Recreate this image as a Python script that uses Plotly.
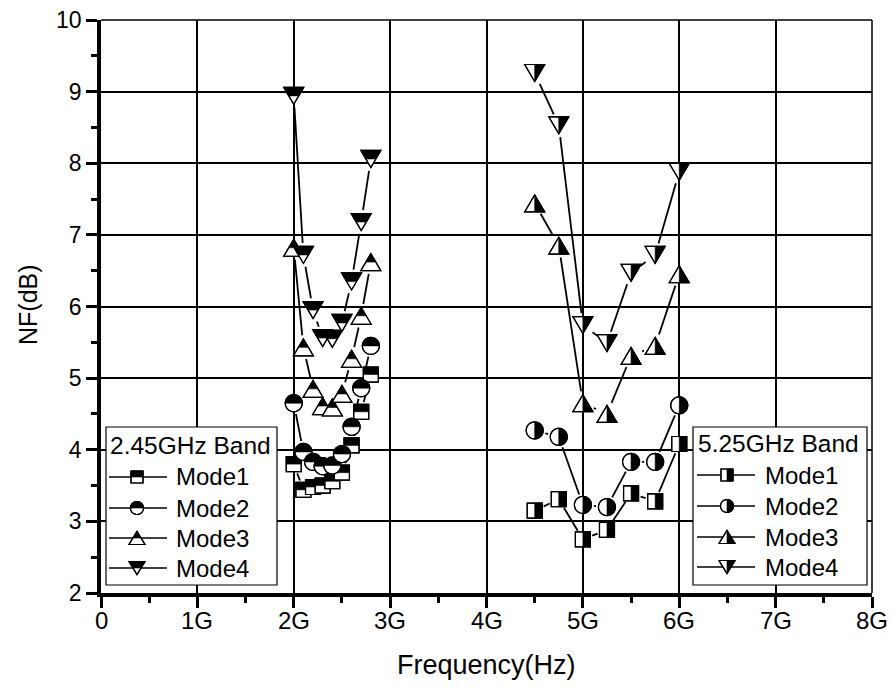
import math
import plotly.graph_objects as go

# ---------------- data ----------------
freq_24 = [2.0e9, 2.1e9, 2.2e9, 2.3e9, 2.4e9, 2.5e9, 2.6e9, 2.7e9, 2.8e9]
nf24_mode1 = [3.80, 3.44, 3.48, 3.50, 3.56, 3.68, 4.06, 4.53, 5.05]
nf24_mode2 = [4.65, 3.97, 3.83, 3.77, 3.78, 3.94, 4.32, 4.86, 5.45]
nf24_mode3 = [6.82, 5.43, 4.85, 4.61, 4.59, 4.78, 5.27, 5.87, 6.62]
nf24_mode4 = [8.94, 6.72, 5.95, 5.56, 5.55, 5.77, 6.35, 7.18, 8.06]

freq_52 = [4.5e9, 4.75e9, 5.0e9, 5.25e9, 5.5e9, 5.75e9, 6.0e9]
nf52_mode1 = [3.15, 3.31, 2.75, 2.88, 3.39, 3.28, 4.08]
nf52_mode2 = [4.27, 4.18, 3.23, 3.20, 3.83, 3.83, 4.62]
nf52_mode3 = [7.44, 6.85, 4.65, 4.50, 5.31, 5.45, 6.45]
nf52_mode4 = [9.26, 8.53, 5.74, 5.49, 6.47, 6.72, 7.88]

mode_names = ["Mode1", "Mode2", "Mode3", "Mode4"]
mode_kinds = ["square", "circle", "up", "down"]
band_titles = ["2.45GHz Band", "5.25GHz Band"]

x_tickvals = [0, 1e9, 2e9, 3e9, 4e9, 5e9, 6e9, 7e9, 8e9]
x_ticktext = ["0", "1G", "2G", "3G", "4G", "5G", "6G", "7G", "8G"]
y_tickvals = [2, 3, 4, 5, 6, 7, 8, 9, 10]

# ---------------- geometry ----------------
FIG_W, FIG_H = 893, 688
M_L, M_R, M_T, M_B = 101, 21, 20, 95
PW = FIG_W - M_L - M_R
PH = FIG_H - M_T - M_B
X_RANGE = [0, 8e9]
Y_RANGE = [2, 10]
FONT = "Liberation Sans, Arial, sans-serif"

MAIN_SIZE = dict(square=15, circle=17, tri_w=20, tri_h=17)
LEG_SIZE = dict(square=12, circle=13, tri_w=16, tri_h=13)
GAP = dict(square=10, circle=11, up=12, down=12)


def to_px(x, y):
    return ((x - X_RANGE[0]) / (X_RANGE[1] - X_RANGE[0]) * PW,
            (y - Y_RANGE[0]) / (Y_RANGE[1] - Y_RANGE[0]) * PH)


def from_px(px, py):
    return (X_RANGE[0] + px / PW * (X_RANGE[1] - X_RANGE[0]),
            Y_RANGE[0] + py / PH * (Y_RANGE[1] - Y_RANGE[0]))


def paper(px, py):
    """absolute page pixel -> paper coordinates"""
    return ((px - M_L) / PW, (M_T + PH - py) / PH)


def gapped_line(xs, ys, gap):
    ox, oy = [], []
    pts = [to_px(x, y) for x, y in zip(xs, ys)]
    for (ax, ay), (bx, by) in zip(pts[:-1], pts[1:]):
        dx, dy = bx - ax, by - ay
        d = math.hypot(dx, dy)
        if d <= 2 * gap + 1:
            continue
        ux, uy = dx / d, dy / d
        p0 = from_px(ax + ux * gap, ay + uy * gap)
        p1 = from_px(bx - ux * gap, by - uy * gap)
        ox += [p0[0], p1[0], None]
        oy += [p0[1], p1[1], None]
    return ox, oy


def arc(r, a0, a1, n):
    return [(r * math.cos(a0 + (a1 - a0) * i / n), r * math.sin(a0 + (a1 - a0) * i / n))
            for i in range(n + 1)]


def geometry(kind, half, s):
    top = half == "top"
    if kind == "square":
        a = s["square"] / 2
        full = [(-a, -a), (a, -a), (a, a), (-a, a)]
        blk = [(-a, 0), (a, 0), (a, a), (-a, a)] if top else [(0, -a), (a, -a), (a, a), (0, a)]
    elif kind == "circle":
        r = s["circle"] / 2
        full = arc(r, 0, 2 * math.pi, 40)[:-1]
        blk = arc(r, 0, math.pi, 20) if top else arc(r, -math.pi / 2, math.pi / 2, 20)
    elif kind == "up":
        w, h = s["tri_w"] / 2, s["tri_h"] / 2
        full = [(-w, -h), (w, -h), (0, h)]
        blk = [(-w / 2, 0), (w / 2, 0), (0, h)] if top else [(0, -h), (w, -h), (0, h)]
    else:
        w, h = s["tri_w"] / 2, s["tri_h"] / 2
        full = [(-w, h), (w, h), (0, -h)]
        blk = [(-w, h), (w, h), (w / 2, 0), (-w / 2, 0)] if top else [(0, h), (w, h), (0, -h)]
    return full, blk


def path(pts):
    return "M" + " L".join(f"{x:.2f},{y:.2f}" for x, y in pts) + " Z"


def marker_shapes(kind, half, xa, ya, xref, yref, s):
    full, blk = geometry(kind, half, s)
    base = dict(type="path", xref=xref, yref=yref, xsizemode="pixel", ysizemode="pixel",
                xanchor=xa, yanchor=ya, layer="above")
    return [
        dict(base, path=path(full), fillcolor="white", line=dict(color="black", width=1.2)),
        dict(base, path=path(blk), fillcolor="black", line=dict(color="black", width=0.6)),
        dict(base, path=path(full), fillcolor="rgba(0,0,0,0)", line=dict(color="black", width=1.2)),
    ]


fig = go.Figure()
shapes = []
annotations = []

bands = [
    (freq_24, [nf24_mode1, nf24_mode2, nf24_mode3, nf24_mode4], "top"),
    (freq_52, [nf52_mode1, nf52_mode2, nf52_mode3, nf52_mode4], "right"),
]

for freqs, series, half in bands:
    for name, kind, vals in zip(mode_names, mode_kinds, series):
        lx, ly = gapped_line(freqs, vals, GAP[kind])
        fig.add_trace(go.Scatter(x=lx, y=ly, mode="lines", line=dict(color="black", width=1.8),
                                 showlegend=False, hoverinfo="skip", name=name))
for freqs, series, half in bands:
    for kind, vals in zip(mode_kinds, series):
        for x, y in zip(freqs, vals):
            shapes += marker_shapes(kind, half, x, y, "x", "y", MAIN_SIZE)

# top / right frame
shapes.append(dict(type="line", xref="paper", yref="paper", x0=0, x1=1, y0=1, y1=1,
                   line=dict(color="black", width=1.5), layer="below"))
shapes.append(dict(type="line", xref="paper", yref="paper", x0=1, x1=1, y0=0, y1=1,
                   line=dict(color="black", width=1.5), layer="below"))

# ---------------- legends (drawn manually) ----------------
legend_boxes = [
    dict(box=(106, 427, 277, 585), title_y=445, rows=[477, 508, 538, 568],
         line_x=(109, 167), mark_x=137, text_x=174, title_x=108, half="top"),
    dict(box=(693, 427, 867, 585), title_y=443, rows=[475, 506, 537, 567],
         line_x=(697, 755), mark_x=727, text_x=763, title_x=696, half="right"),
]
for leg, title in zip(legend_boxes, band_titles):
    bx0, by0, bx1, by1 = leg["box"]
    p0 = paper(bx0, by1)
    p1 = paper(bx1, by0)
    shapes.append(dict(type="rect", xref="paper", yref="paper", x0=p0[0], y0=p0[1], x1=p1[0], y1=p1[1],
                       fillcolor="white", line=dict(color="black", width=1.2), layer="above"))
    tx, ty = paper(leg["title_x"], leg["title_y"])
    annotations.append(dict(text=title, x=tx, y=ty, xref="paper", yref="paper", xanchor="left",
                            yanchor="middle", showarrow=False, font=dict(size=24.5, color="black", family=FONT)))
    for name, kind, ry in zip(mode_names, mode_kinds, leg["rows"]):
        a = paper(leg["line_x"][0], ry)
        b = paper(leg["line_x"][1], ry)
        shapes.append(dict(type="line", xref="paper", yref="paper", x0=a[0], y0=a[1], x1=b[0], y1=b[1],
                           line=dict(color="black", width=1.5), layer="above"))
        mx, my = paper(leg["mark_x"], ry)
        shapes += marker_shapes(kind, leg["half"], mx, my, "paper", "paper", LEG_SIZE)
        tx, ty = paper(leg["text_x"], ry)
        annotations.append(dict(text=name, x=tx, y=ty, xref="paper", yref="paper", xanchor="left",
                                yanchor="middle", showarrow=False,
                                font=dict(size=24, color="black", family=FONT)))

# x tick labels (placed as text just below the tick marks)
_, label_y = paper(0, 620)
for tv, tt in zip(x_tickvals, x_ticktext):
    annotations.append(dict(text=tt, x=tv, y=label_y, xref="x", yref="paper", showarrow=False,
                            xanchor="center", yanchor="middle",
                            font=dict(size=24, color="black", family=FONT)))

# axis titles
ax, ay = paper(28, 305)
annotations.append(dict(text="NF(dB)", x=ax, y=ay, xref="paper", yref="paper", textangle=-90,
                        showarrow=False, xanchor="center", yanchor="middle",
                        font=dict(size=25, color="black", family=FONT)))
ax, ay = paper(486, 665)
annotations.append(dict(text="Frequency(Hz)", x=ax, y=ay, xref="paper", yref="paper",
                        showarrow=False, xanchor="center", yanchor="middle",
                        font=dict(size=27, color="black", family=FONT)))

fig.update_layout(
    width=FIG_W, height=FIG_H,
    margin=dict(l=M_L, r=M_R, t=M_T, b=M_B, autoexpand=False),
    paper_bgcolor="white", plot_bgcolor="white",
    showlegend=False,
    shapes=shapes,
    annotations=annotations,
    font=dict(family=FONT, color="black"),
)
fig.update_xaxes(
    range=X_RANGE, tickvals=x_tickvals, ticktext=x_ticktext, showticklabels=False,
    showgrid=True, gridcolor="black", gridwidth=1.5,
    showline=True, linecolor="black", linewidth=3.5,
    ticks="outside", ticklen=11, tickwidth=3, tickcolor="black",
    minor=dict(dtick=0.5e9, tick0=0, ticks="outside", ticklen=6, tickwidth=2.5,
               tickcolor="black", showgrid=False),
    zeroline=False, fixedrange=True, automargin=False,
)
fig.update_yaxes(
    range=Y_RANGE, tickvals=y_tickvals,
    showgrid=True, gridcolor="black", gridwidth=1.5,
    showline=True, linecolor="black", linewidth=3.5,
    ticks="outside", ticklen=11, tickwidth=3, tickcolor="black",
    minor=dict(dtick=0.5, tick0=2, ticks="outside", ticklen=6, tickwidth=2.5,
               tickcolor="black", showgrid=False),
    tickfont=dict(size=23, family=FONT, color="black"),
    zeroline=False, fixedrange=True, automargin=False,
)

fig.write_html("out.html")
